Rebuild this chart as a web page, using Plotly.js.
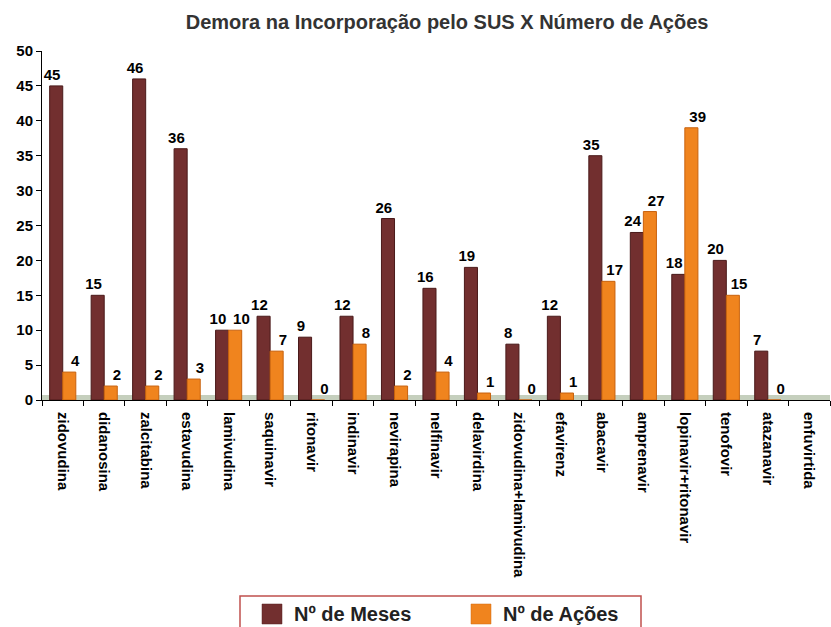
<!DOCTYPE html>
<html>
<head>
<meta charset="utf-8">
<script src="https://cdn.plot.ly/plotly-3.0.1.min.js"></script>
<style>html,body{margin:0;padding:0;background:#fff;}#chart{width:831px;height:627px;}</style>
</head>
<body>
<div id="chart"></div>
<script>
const categories = ["zidovudina","didanosina","zalcitabina","estavudina","lamivudina","saquinavir","ritonavir","indinavir","nevirapina","nelfinavir","delavirdina","zidovudina+lamivudina","efavirenz","abacavir","amprenavir","lopinavir+ritonavir","tenofovir","atazanavir","enfuvirtida"];
const meses = [45,15,46,36,10,12,9,12,26,16,19,8,12,35,24,18,20,7,null];
const acoes = [4,2,2,3,10,7,0,8,2,4,1,0,1,17,27,39,15,0,null];
const seriesNames = ["Nº de Meses","Nº de Ações"];
const seriesColors = ["#722f2f","#f0841e"];
const titleText = "Demora na Incorporação pelo SUS X Número de Ações";

const FONT = "Liberation Sans, Arial, sans-serif";
const NB = "\u00a0";
// labels: meses nudged left, ações nudged right (as in the reference)
const lblLeft = v => v.map(x => x === null ? "" : String(x) + NB + NB);
const lblRight = v => v.map(x => x === null ? "" : NB + NB + NB + String(x));

const traces = [
  {type:"bar", name:seriesNames[0], x:categories, y:meses, text:lblLeft(meses), textposition:"outside", cliponaxis:false,
   constraintext:"none", textfont:{family:FONT, size:15, color:"#000", weight:"bold"},
   marker:{color:seriesColors[0], line:{color:"#4a1a1a", width:1}}},
  {type:"bar", name:seriesNames[1], x:categories, y:acoes, text:lblRight(acoes), textposition:"outside", cliponaxis:false,
   constraintext:"none", textfont:{family:FONT, size:15, color:"#000", weight:"bold"},
   marker:{color:seriesColors[1], line:{color:"#c8620e", width:1}}}
];

// manual legend (paper coords of plot area: x 42..830, y 51..400)
const px = p => (p - 42) / 788;
const py = p => (400 - p) / 349;

const layout = {
  width:831, height:627,
  margin:{l:42, r:1, t:51, b:227},
  paper_bgcolor:"#fff", plot_bgcolor:"#fff",
  font:{family:FONT, color:"#000"},
  title:{text:"<b>"+titleText+"</b>", font:{family:FONT, size:20, color:"#333"}, x:0.538, xanchor:"center", y:0.965, yanchor:"middle"},
  barmode:"group", bargap:0.37, bargroupgap:0,
  showlegend:false,
  xaxis:{type:"category", tickson:"boundaries", ticks:"outside", ticklen:5, tickcolor:"#000",
    showline:true, linecolor:"#000", linewidth:1, tickangle:90, ticklabelstandoff:8,
    tickfont:{family:FONT, size:15, color:"#000", weight:"bold"}, showgrid:false, fixedrange:true},
  yaxis:{range:[0,50], dtick:5, ticks:"outside", ticklen:5, tickcolor:"#000", showline:true, linecolor:"#000", linewidth:1,
    showgrid:false, zeroline:false, tickfont:{family:FONT, size:15, color:"#000", weight:"bold"}},
  shapes:[
    {type:"rect", xref:"paper", yref:"y", x0:0, x1:1, y0:0, y1:0.7, fillcolor:"#c5cfbd", line:{width:0}, layer:"below"},
    {type:"rect", xref:"paper", yref:"paper", x0:px(240), x1:px(641), y0:py(596), y1:py(660), fillcolor:"#fff", line:{color:"#c0504d", width:1.5}},
    {type:"rect", xref:"paper", yref:"paper", x0:px(262), x1:px(282), y0:py(604), y1:py(624), fillcolor:seriesColors[0], line:{color:"#5a2020", width:0.5}},
    {type:"rect", xref:"paper", yref:"paper", x0:px(471), x1:px(491), y0:py(604), y1:py(624), fillcolor:seriesColors[1], line:{color:"#d06a10", width:0.5}}
  ],
  annotations:[
    {xref:"paper", yref:"paper", x:px(292), y:py(614), xanchor:"left", yanchor:"middle", showarrow:false, text:"<b>"+seriesNames[0]+"</b>", font:{family:FONT, size:20, color:"#222"}},
    {xref:"paper", yref:"paper", x:px(501), y:py(614), xanchor:"left", yanchor:"middle", showarrow:false, text:"<b>"+seriesNames[1]+"</b>", font:{family:FONT, size:20, color:"#222"}}
  ]
};

Plotly.newPlot("chart", traces, layout, {displayModeBar:false, staticPlot:true});
</script>
</body>
</html>
